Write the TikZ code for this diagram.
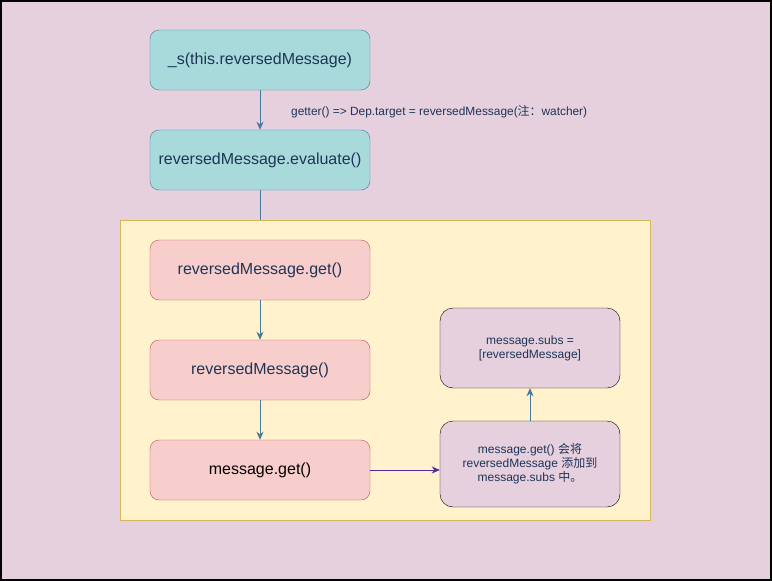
\documentclass[tikz,border=0pt]{standalone}
\usepackage{fontspec}
\setmainfont{Liberation Sans}
\newfontfamily\cjk{Noto Sans CJK SC}
\usetikzlibrary{arrows.meta}
\definecolor{bg}{HTML}{E6D0DE}
\definecolor{tealf}{HTML}{A8DADC}
\definecolor{teals}{HTML}{457B9D}
\definecolor{txt}{HTML}{1D3557}
\definecolor{redf}{HTML}{F8CECC}
\definecolor{reds}{HTML}{B85450}
\definecolor{yelf}{HTML}{FFF2CC}
\definecolor{yels}{HTML}{D6B656}
\definecolor{purp}{HTML}{4C2CA0}
\tikzset{
  tealbox/.style={draw=teals, fill=tealf, rounded corners=9pt, minimum width=220pt, minimum height=60pt, inner sep=0pt, text=txt, font=\fontsize{16}{19}\selectfont},
  redbox/.style={draw=reds, fill=redf, rounded corners=9pt, minimum width=220pt, minimum height=60pt, inner sep=0pt, text=txt, font=\fontsize{16}{19}\selectfont},
  pinkbox/.style={draw=black, fill=bg, rounded corners=13pt, minimum width=180pt, inner sep=0pt, text=txt, align=center, font=\fontsize{12}{14}\selectfont},
  flow/.style={draw=teals, line width=0.8pt, -{Stealth[length=8pt,width=7pt,inset=2.5pt]}},
  flowp/.style={draw=purp, line width=0.8pt, -{Stealth[length=8pt,width=7pt,inset=2.5pt]}},
}
\begin{document}
\begin{tikzpicture}[x=1pt,y=-1pt]
\useasboundingbox (0,0) rectangle (772,581);
\fill[bg, draw=black, line width=2pt] (1,1) rectangle (771,580);
\node[draw=yels, fill=yelf, line width=0.8pt, minimum width=530pt, minimum height=300pt, inner sep=0pt] (cont) at (385,370) {};
\node[tealbox] (s) at (260,60) {\_s(this.reversedMessage)};
\node[tealbox] (ev) at (260,160) {reversedMessage.evaluate()};
\node[redbox] (rg) at (260,270) {reversedMessage.get()};
\node[redbox] (rm) at (260,370) {reversedMessage()};
\node[redbox, text=black] (mg) at (260,470) {message.get()};
\node[pinkbox, minimum height=80pt] (subs) at (530,348) {message.subs =\\{}{[}reversedMessage{]}};
\node[pinkbox, minimum height=86pt] (add) at (530,464) {message.get() {\cjk 会将}\\reversedMessage {\cjk 添加到}\\message.subs {\cjk 中。}};
\node[anchor=west, text=txt, inner sep=0pt, font=\fontsize{11.9}{14}\selectfont] (lbl) at (291,111.5) {getter() => Dep.target = reversedMessage({\cjk 注：}watcher)};
\draw[flow] (s) -- (ev);
\draw[draw=teals, line width=0.8pt] (ev.south) -- (ev.south |- cont.north);
\draw[flow] (rg) -- (rm);
\draw[flow] (rm) -- (mg);
\draw[flowp] (mg.east) -- (mg.east -| add.west);
\draw[flow] (add.north) -- (subs.south);
\end{tikzpicture}
\end{document}
